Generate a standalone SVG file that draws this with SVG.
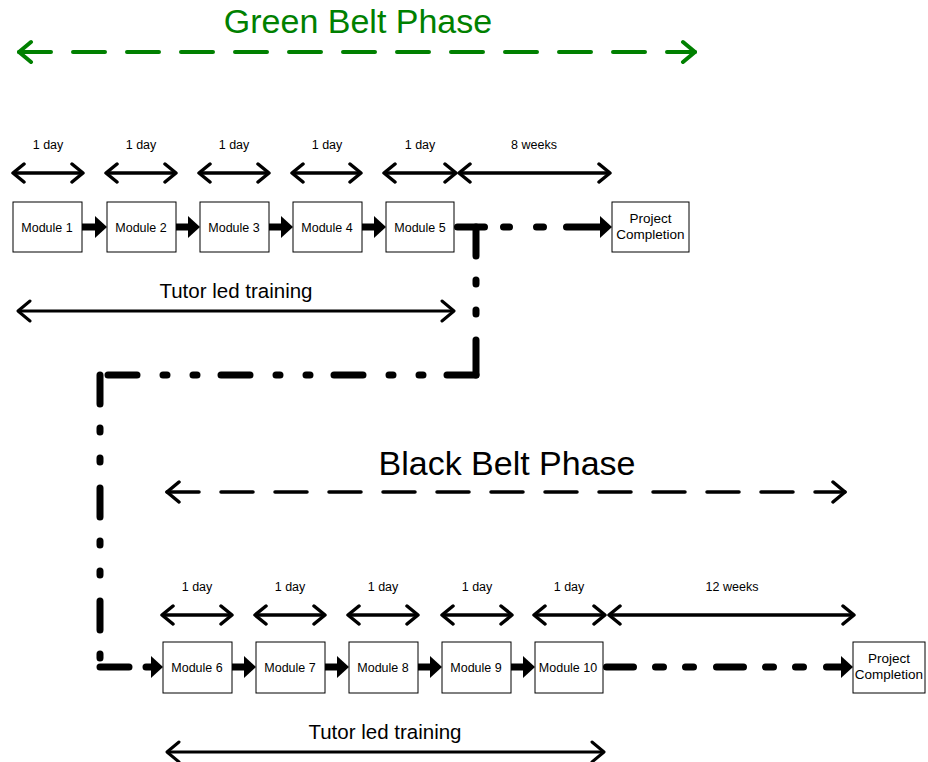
<svg xmlns="http://www.w3.org/2000/svg" width="928" height="762" viewBox="0 0 928 762">
<style>
text{font-family:"Liberation Sans",Arial,sans-serif;fill:#000}
.title{font-size:34px;text-anchor:middle}
.lbl{font-size:12.5px;text-anchor:middle}
.tut{font-size:20.5px;text-anchor:middle}
.box rect{fill:#fff;stroke:#000;stroke-width:1}
.box text{font-size:12.5px;text-anchor:middle}
.pc text{font-size:13.5px}
.dbl{stroke:#000;stroke-width:3.5;fill:none;marker-start:url(#chev);marker-end:url(#chev)}
.tl{stroke:#000;stroke-width:3;fill:none;marker-start:url(#chevL);marker-end:url(#chevL)}
.blk{stroke:#000;stroke-width:7;stroke-linecap:round;fill:none}
.solid{marker-end:url(#tri)}
.dd{stroke-dasharray:29 24 4 26 4 26}
</style>
<defs>
<marker id="chev" markerUnits="userSpaceOnUse" viewBox="-14 -12 16 24" markerWidth="16" markerHeight="24" refX="0" refY="0" orient="auto-start-reverse">
<path d="M-11,-9 L0,0 L-11,9" fill="none" stroke="#000" stroke-width="3.5" stroke-linecap="round" stroke-linejoin="round"/>
</marker>
<marker id="chevL" markerUnits="userSpaceOnUse" viewBox="-16 -13 18 26" markerWidth="18" markerHeight="26" refX="0" refY="0" orient="auto-start-reverse">
<path d="M-12,-10 L0,0 L-12,10" fill="none" stroke="#000" stroke-width="3" stroke-linecap="round" stroke-linejoin="round"/>
</marker>
<marker id="chevG" markerUnits="userSpaceOnUse" viewBox="-16 -13 18 26" markerWidth="18" markerHeight="26" refX="0" refY="0" orient="auto-start-reverse">
<path d="M-12,-10 L0,0 L-12,10" fill="none" stroke="#008000" stroke-width="4" stroke-linecap="round" stroke-linejoin="round"/>
</marker>
<marker id="chevB" markerUnits="userSpaceOnUse" viewBox="-16 -13 18 26" markerWidth="18" markerHeight="26" refX="0" refY="0" orient="auto-start-reverse">
<path d="M-12,-10 L0,0 L-12,10" fill="none" stroke="#000" stroke-width="3.5" stroke-linecap="round" stroke-linejoin="round"/>
</marker>
<marker id="tri" markerUnits="userSpaceOnUse" viewBox="0 0 12 22" markerWidth="12" markerHeight="22" refX="0" refY="11" orient="auto">
<path d="M0,0 L12,11 L0,22 Z" fill="#000"/>
</marker>
</defs>

<g id="green-phase">
<text class="title" x="358" y="33" style="fill:#008000">Green Belt Phase</text>
<line x1="19" y1="52" x2="695" y2="52" stroke="#008000" stroke-width="4" stroke-linecap="round" stroke-dasharray="32 22" marker-start="url(#chevG)" marker-end="url(#chevG)"/>
</g>

<g id="black-phase">
<text class="title" x="507" y="475">Black Belt Phase</text>
<line x1="167" y1="492" x2="845" y2="492" stroke="#000" stroke-width="3.5" stroke-linecap="round" stroke-dasharray="32 22" marker-start="url(#chevB)" marker-end="url(#chevB)"/>
</g>

<g id="durations-top">
<line class="dbl" x1="13" y1="173" x2="83" y2="173"/>
<line class="dbl" x1="106" y1="173" x2="176" y2="173"/>
<line class="dbl" x1="199" y1="173" x2="269" y2="173"/>
<line class="dbl" x1="292" y1="173" x2="361" y2="173"/>
<line class="dbl" x1="384" y1="173" x2="456" y2="173"/>
<line class="dbl" x1="459" y1="173" x2="610" y2="173"/>
<text class="lbl" x="48" y="149">1 day</text>
<text class="lbl" x="141" y="149">1 day</text>
<text class="lbl" x="234" y="149">1 day</text>
<text class="lbl" x="327" y="149">1 day</text>
<text class="lbl" x="420" y="149">1 day</text>
<text class="lbl" x="534" y="149">8 weeks</text>
</g>

<g id="durations-bottom">
<line class="dbl" x1="162" y1="615" x2="232" y2="615"/>
<line class="dbl" x1="255" y1="615" x2="325" y2="615"/>
<line class="dbl" x1="348" y1="615" x2="418" y2="615"/>
<line class="dbl" x1="442" y1="615" x2="512" y2="615"/>
<line class="dbl" x1="534" y1="615" x2="605" y2="615"/>
<line class="dbl" x1="609" y1="615" x2="854" y2="615"/>
<text class="lbl" x="197" y="591">1 day</text>
<text class="lbl" x="290" y="591">1 day</text>
<text class="lbl" x="383" y="591">1 day</text>
<text class="lbl" x="477" y="591">1 day</text>
<text class="lbl" x="569" y="591">1 day</text>
<text class="lbl" x="732" y="591">12 weeks</text>
</g>

<g id="tutor-top">
<text class="tut" x="236" y="298">Tutor led training</text>
<line class="tl" x1="18" y1="311" x2="454" y2="311"/>
</g>
<g id="tutor-bottom">
<text class="tut" x="385" y="739">Tutor led training</text>
<line class="tl" x1="167" y1="752" x2="604" y2="752"/>
</g>

<g id="connectors">
<line class="blk solid" x1="82" y1="227" x2="95" y2="227"/>
<line class="blk solid" x1="176" y1="227" x2="188" y2="227"/>
<line class="blk solid" x1="269" y1="227" x2="281" y2="227"/>
<line class="blk solid" x1="362" y1="227" x2="374" y2="227"/>
<line class="blk solid" x1="232" y1="667" x2="244" y2="667"/>
<line class="blk solid" x1="325" y1="667" x2="337" y2="667"/>
<line class="blk solid" x1="418" y1="667" x2="430" y2="667"/>
<line class="blk solid" x1="511" y1="667" x2="523" y2="667"/>
<line class="blk" x1="457.5" y1="227" x2="600" y2="227" stroke-dasharray="27 19 6 27 7 23 40 100" marker-end="url(#tri)"/>
<line class="blk" x1="606.5" y1="667" x2="841" y2="667" stroke-dasharray="27 22 8 22 8 23" marker-end="url(#tri)"/>
<line class="blk" x1="476" y1="227" x2="476" y2="375" stroke-dasharray="29 24 4 26 4 26 40 10"/>
<line class="blk dd" x1="476" y1="375" x2="100" y2="375"/>
<line class="blk dd" x1="100" y1="375" x2="100" y2="667"/>
<line class="blk" x1="100" y1="667" x2="151" y2="667" stroke-dasharray="29 17 10 20" marker-end="url(#tri)"/>
</g>

<g id="module1" class="box"><rect x="13" y="202" width="69" height="50"/><text x="47" y="231.5">Module 1</text></g>
<g id="module2" class="box"><rect x="107" y="202" width="69" height="50"/><text x="141" y="231.5">Module 2</text></g>
<g id="module3" class="box"><rect x="200" y="202" width="69" height="50"/><text x="234" y="231.5">Module 3</text></g>
<g id="module4" class="box"><rect x="293" y="202" width="69" height="50"/><text x="327" y="231.5">Module 4</text></g>
<g id="module5" class="box"><rect x="386" y="202" width="68" height="50"/><text x="420" y="231.5">Module 5</text></g>
<g id="project1" class="box pc"><rect x="612" y="202" width="77" height="50"/><text x="650.5" y="223">Project</text><text x="650.5" y="239">Completion</text></g>

<g id="module6" class="box"><rect x="163" y="642" width="69" height="51"/><text x="197" y="671.5">Module 6</text></g>
<g id="module7" class="box"><rect x="256" y="642" width="69" height="51"/><text x="290" y="671.5">Module 7</text></g>
<g id="module8" class="box"><rect x="349" y="642" width="69" height="51"/><text x="383" y="671.5">Module 8</text></g>
<g id="module9" class="box"><rect x="442" y="642" width="69" height="51"/><text x="476" y="671.5">Module 9</text></g>
<g id="module10" class="box"><rect x="535" y="642" width="68" height="51"/><text x="568" y="671.5">Module 10</text></g>
<g id="project2" class="box pc"><rect x="853" y="642" width="72" height="51"/><text x="889" y="663">Project</text><text x="889" y="679">Completion</text></g>
</svg>
